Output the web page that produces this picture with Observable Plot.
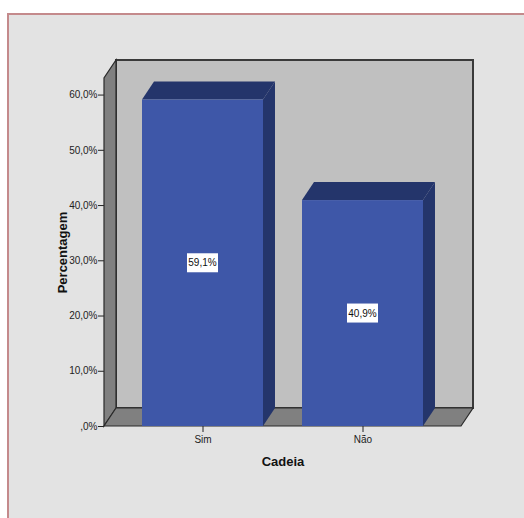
<!DOCTYPE html>
<html>
<head>
<meta charset="utf-8">
<script src="https://cdn.jsdelivr.net/npm/d3@7"></script>
<script src="https://cdn.jsdelivr.net/npm/@observablehq/plot@0.6"></script>
<style>
  html, body { margin: 0; padding: 0; background: #ffffff; width: 524px; height: 518px; overflow: hidden; }
  #panel { position: absolute; left: 7px; top: 13px; width: 522px; height: 510px; background: #e3e3e3;
           border-left: 2px solid #c48a8c; border-top: 2px solid #c48a8c; box-sizing: border-box; }
  #chart { position: absolute; left: 0; top: 0; }
</style>
</head>
<body>
<div id="panel"></div>
<div id="chart"></div>
<script>
// ---- data ----
const categories = ["Sim", "Não"];
const percentages = [59.1, 40.9];
const yTicks = [0, 10, 20, 30, 40, 50, 60];
const yMax = 63;
const xTitle = "Cadeia";
const yTitle = "Percentagem";

const data = categories.map((c, i) => ({cat: c, pct: percentages[i]}));

// ---- style constants ----
const DX = 12, DY = -18;               // 3D depth offset (pixels)
const FRONT = "#3e57a8", DEPTH = "#24356b";
const WALL = "#c0c0c0", SIDE = "#808080", EDGE = "#2a2a2a";
const FONT = "'Liberation Sans Narrow', 'Liberation Sans', Arial, sans-serif";

const fmtPct = v => v === 0 ? ",0%" : v.toFixed(1).replace(".", ",") + "%";

// back wall, left wall, floor
function walls(index, scales, values, dim) {
  const x0 = dim.marginLeft, x1 = dim.width - dim.marginRight;
  const yb = scales.y(0), yt = scales.y(yMax);
  const g = d3.create("svg:g");
  g.append("rect")
    .attr("x", x0 + DX).attr("y", yt + DY)
    .attr("width", x1 - x0).attr("height", yb - yt)
    .attr("fill", WALL).attr("stroke", "#3a3a3a").attr("stroke-width", 2);
  g.append("path")
    .attr("d", `M${x0},${yb}L${x0},${yt}L${x0 + DX},${yt + DY}L${x0 + DX},${yb + DY}Z`)
    .attr("fill", SIDE).attr("stroke", EDGE).attr("stroke-width", 1.2);
  g.append("path")
    .attr("d", `M${x0},${yb}L${x1},${yb}L${x1 + DX},${yb + DY}L${x0 + DX},${yb + DY}Z`)
    .attr("fill", SIDE).attr("stroke", EDGE).attr("stroke-width", 1.2);
  return g.node();
}

// depth faces of the bars (top + right side)
function barDepth(index, scales, values, dim) {
  const g = d3.create("svg:g");
  const bw = scales.x.bandwidth();
  for (const d of data) {
    const xl = scales.x(d.cat), xr = xl + bw;
    const yt = scales.y(d.pct), yb = scales.y(0);
    g.append("path")
      .attr("d", `M${xl},${yt}L${xl + DX},${yt + DY}L${xr + DX},${yt + DY}L${xr},${yt}Z`)
      .attr("fill", DEPTH);
    g.append("path")
      .attr("d", `M${xr},${yt}L${xr + DX},${yt + DY}L${xr + DX},${yb + DY}L${xr},${yb}Z`)
      .attr("fill", DEPTH);
  }
  return g.node();
}

// value labels in white boxes
function valueLabels(index, scales, values, dim) {
  const g = d3.create("svg:g");
  const bw = scales.x.bandwidth();
  for (const d of data) {
    const cx = scales.x(d.cat) + bw / 2;
    const cy = scales.y(d.pct / 2);
    g.append("rect")
      .attr("x", cx - 15.5).attr("y", cy - 9.5)
      .attr("width", 31).attr("height", 19)
      .attr("fill", "#ffffff");
    g.append("text")
      .attr("x", cx).attr("y", cy).attr("dy", "0.35em")
      .attr("text-anchor", "middle")
      .attr("font-size", 10).attr("font-family", FONT)
      .attr("fill", "#111")
      .text(fmtPct(d.pct));
  }
  return g.node();
}

const chart = Plot.plot({
  width: 524,
  height: 518,
  marginLeft: 104,
  marginRight: 63,
  marginTop: 78,
  marginBottom: 92,
  style: {background: "transparent", fontFamily: FONT, fontSize: "10px", color: "#222"},
  x: {domain: categories, paddingInner: 0.242, paddingOuter: 0.23, label: null, tickSize: 6},
  y: {domain: [0, yMax], ticks: yTicks, tickFormat: fmtPct, label: null, tickSize: 6, tickPadding: 1},
  marks: [
    walls,
    barDepth,
    Plot.barY(data, {x: "cat", y: "pct", fill: FRONT}),
    valueLabels,
    Plot.text([xTitle], {frameAnchor: "bottom", dy: 39, fontWeight: "bold", fontSize: 13,
                          fontFamily: "'Liberation Sans', Arial, sans-serif", fill: "#111"}),
    Plot.text([yTitle], {frameAnchor: "left", textAnchor: "middle", dx: -42, rotate: -90, fontWeight: "bold", fontSize: 13,
                          fontFamily: "'Liberation Sans', Arial, sans-serif", fill: "#111"})
  ]
});
document.getElementById("chart").appendChild(chart);
</script>
</body>
</html>
